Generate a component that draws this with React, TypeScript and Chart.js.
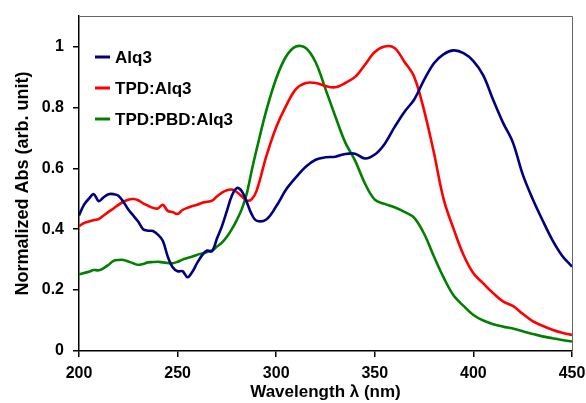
import React, { useEffect, useRef } from "react";
import { Chart, registerables } from "chart.js";

Chart.register(...registerables);

const wavelengths = [
  200, 202.5, 205, 207.5, 210, 212.5, 215, 217.5, 220, 222.5, 225, 227.5, 230, 232.5, 235, 237.5,
  240, 242.5, 245, 247.5, 250, 252.5, 255, 257.5, 260, 262.5, 265, 267.5, 270, 272.5, 275, 277.5,
  280, 282.5, 285, 287.5, 290,
  295, 300, 305, 310, 315, 320, 325, 330, 335, 340, 345, 350, 355, 360, 365, 370, 375, 380, 385,
  390, 395, 400, 405, 410, 415, 420, 425, 430, 435, 440, 445, 450,
];

const alq3 = [
  0.445, 0.48, 0.5, 0.515, 0.492, 0.505, 0.515, 0.515, 0.51, 0.49, 0.465, 0.445, 0.425, 0.4, 0.395, 0.394,
  0.382, 0.362, 0.31, 0.275, 0.262, 0.262, 0.242, 0.26, 0.29, 0.315, 0.33, 0.328, 0.37, 0.41, 0.46, 0.51,
  0.535, 0.525, 0.49, 0.45, 0.428,
  0.432, 0.475, 0.53, 0.57, 0.605, 0.628, 0.636, 0.638, 0.647, 0.648, 0.632, 0.645, 0.68, 0.735, 0.785,
  0.826, 0.89, 0.945, 0.975, 0.987, 0.978, 0.952, 0.905, 0.825, 0.75, 0.685, 0.58, 0.5, 0.43, 0.365, 0.313, 0.277,
];

const tpdAlq3 = [
  0.41, 0.42, 0.425, 0.43, 0.433, 0.445, 0.457, 0.468, 0.48, 0.49, 0.497, 0.499, 0.495, 0.485, 0.477, 0.47,
  0.468, 0.48, 0.46, 0.456, 0.45, 0.463, 0.47, 0.476, 0.48, 0.487, 0.49, 0.494, 0.508, 0.52, 0.528, 0.53,
  0.522, 0.508, 0.494, 0.498, 0.525,
  0.64, 0.735, 0.805, 0.86, 0.88, 0.88, 0.87, 0.866, 0.88, 0.9, 0.94, 0.982, 1.0, 0.995, 0.95, 0.9, 0.79,
  0.65, 0.496, 0.4, 0.315, 0.255, 0.222, 0.19, 0.163, 0.148, 0.122, 0.098, 0.083, 0.07, 0.06, 0.053,
];

const tpdPbdAlq3 = [
  0.252, 0.256, 0.26, 0.266, 0.265, 0.272, 0.283, 0.296, 0.299, 0.299, 0.294, 0.288, 0.283, 0.286, 0.291, 0.292,
  0.293, 0.291, 0.289, 0.288, 0.293, 0.3, 0.305, 0.31, 0.316, 0.32, 0.325, 0.33, 0.343, 0.356, 0.375, 0.4,
  0.43, 0.465, 0.515, 0.59, 0.66,
  0.79, 0.895, 0.967, 1.0, 0.995, 0.948, 0.86, 0.77, 0.685, 0.625, 0.55, 0.497, 0.483, 0.472, 0.457, 0.437,
  0.385, 0.31, 0.24, 0.182, 0.148, 0.118, 0.1, 0.088, 0.08, 0.074, 0.065, 0.056, 0.048, 0.042, 0.036, 0.031,
];

const seriesLabels = ["Alq3", "TPD:Alq3", "TPD:PBD:Alq3"];
const seriesColors = ["#000080", "#ff0000", "#008000"];
const seriesValues = [alq3, tpdAlq3, tpdPbdAlq3];

const xTitle = "Wavelength \u03bb (nm)";
const yTitle = "Normalized Abs (arb. unit)";

const FONT = "'Liberation Sans', Arial, sans-serif";

const framePlugin = {
  id: "frame",
  afterDatasetsDraw(chart: any) {
    const { ctx, chartArea } = chart;
    ctx.save();
    ctx.strokeStyle = "#666666";
    ctx.lineWidth = 1;
    ctx.beginPath();
    ctx.moveTo(chartArea.left, chartArea.top + 0.5);
    ctx.lineTo(chartArea.right + 0.5, chartArea.top + 0.5);
    ctx.lineTo(chartArea.right + 0.5, chartArea.bottom);
    ctx.stroke();
    ctx.restore();
  },
};

const legendPlugin = {
  id: "insideLegend",
  afterDraw(chart: any) {
    const { ctx } = chart;
    ctx.save();
    chart.data.datasets.forEach((ds: any, i: number) => {
      const y = 57 + i * 31;
      ctx.strokeStyle = ds.borderColor;
      ctx.lineWidth = 3;
      ctx.beginPath();
      ctx.moveTo(95, y);
      ctx.lineTo(110, y);
      ctx.stroke();
      ctx.fillStyle = "#000";
      ctx.font = `bold 17px ${FONT}`;
      ctx.textBaseline = "middle";
      ctx.textAlign = "left";
      ctx.fillText(ds.label, 115, y + 1);
    });
    ctx.restore();
  },
};

export default function App() {
  const ref = useRef<HTMLCanvasElement | null>(null);
  useEffect(() => {
    if (!ref.current) return;
    const chart = new Chart(ref.current, {
      type: "line",
      data: {
        datasets: seriesLabels.map((label, i) => ({
          label,
          data: wavelengths.map((w, j) => ({ x: w, y: seriesValues[i][j] })),
          borderColor: seriesColors[i],
          backgroundColor: seriesColors[i],
          borderWidth: 2.6,
          pointRadius: 0,
          tension: 0.35,
          fill: false,
        })),
      },
      options: {
        responsive: false,
        animation: false,
        layout: { padding: { left: 0, top: 16, right: 14, bottom: 0 } },
        plugins: { legend: { display: false }, tooltip: { enabled: false } },
        scales: {
          x: {
            type: "linear",
            min: 200,
            max: 450,
            ticks: {
              stepSize: 50,
              color: "#000",
              padding: 7,
              maxRotation: 0,
              font: { family: FONT, size: 16, weight: "bold" },
            },
            grid: { drawOnChartArea: false, drawTicks: true, tickLength: 6, color: "#000", lineWidth: 1.5 },
            border: { color: "#000", width: 1.5 },
            title: {
              display: true,
              text: xTitle,
              color: "#000",
              font: { family: FONT, size: 17, weight: "bold" },
              padding: { top: 0, bottom: 0 },
            },
            afterFit(scale: any) {
              scale.height = 52;
              scale.paddingLeft = 0;
              scale.paddingRight = 0;
            },
          },
          y: {
            type: "linear",
            min: 0,
            max: 1.1,
            ticks: {
              stepSize: 0.2,
              color: "#000",
              padding: 9,
              font: { family: FONT, size: 16, weight: "bold" },
              callback: (v: any) => String(Number(Number(v).toFixed(1))),
            },
            afterBuildTicks(scale: any) {
              scale.ticks = scale.ticks.filter((t: any) => t.value <= 1.0001);
            },
            grid: { drawOnChartArea: false, drawTicks: true, tickLength: 6, color: "#000", lineWidth: 1.5 },
            border: { color: "#000", width: 1.5 },
            title: {
              display: true,
              text: yTitle,
              color: "#000",
              font: { family: FONT, size: 18, weight: "bold" },
              padding: { top: 12, bottom: 0 },
            },
            afterFit(scale: any) {
              scale.width = 79;
              scale.paddingTop = 0;
              scale.paddingBottom = 0;
            },
          },
        },
      },
      plugins: [framePlugin, legendPlugin],
    } as any);
    return () => chart.destroy();
  }, []);
  return (
    <div style={{ position: "absolute", left: 0, top: 0, width: 586, height: 403, background: "#fff" }}>
      <canvas ref={ref} width={586} height={403} />
    </div>
  );
}
